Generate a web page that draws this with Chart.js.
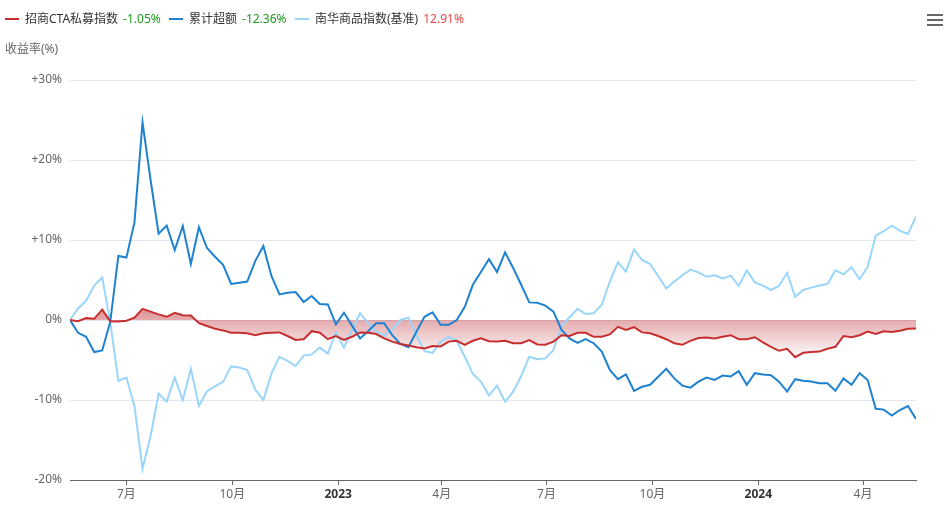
<!DOCTYPE html>
<html>
<head>
<meta charset="utf-8">
<script src="https://cdn.jsdelivr.net/npm/chart.js@4.4.1/dist/chart.umd.min.js"></script>
<style>
html,body{margin:0;padding:0;background:#fff;}
#wrap{position:relative;width:944px;height:529px;overflow:hidden;font-family:'Noto Sans','Noto Sans CJK SC',sans-serif;}
#c{position:absolute;left:0;top:0;}
#legend{position:absolute;left:0;top:10px;width:600px;height:18px;font-size:12px;color:#333;white-space:nowrap;line-height:18px;}
#legend .item{position:absolute;top:0;display:flex;align-items:center;}
#legend .ln{display:inline-block;width:14px;height:2px;margin-right:6px;}
#legend .val{margin-left:5px;}
#ytitle{position:absolute;left:5px;top:40px;font-size:12px;color:#666;line-height:18px;}
#menu{position:absolute;left:927px;top:14px;width:16px;}
#menu div{height:2px;background:#666;margin-bottom:3px;}
</style>
</head>
<body>
<div id="wrap">
  <canvas id="c" width="944" height="529"></canvas>
  <div id="legend"></div>
  <div id="ytitle">收益率(%)</div>
  <div id="menu"><div></div><div></div><div></div></div>
</div>
<script>
// ---- categories: weekly dates ----
const weekDates = [
 '2022-05-13','2022-05-20','2022-05-27','2022-06-03','2022-06-10','2022-06-17','2022-06-24','2022-07-01','2022-07-08','2022-07-15',
 '2022-07-22','2022-07-29','2022-08-05','2022-08-12','2022-08-19','2022-08-26','2022-09-02','2022-09-09','2022-09-16','2022-09-23',
 '2022-09-30','2022-10-07','2022-10-14','2022-10-21','2022-10-28','2022-11-04','2022-11-11','2022-11-18','2022-11-25','2022-12-02',
 '2022-12-09','2022-12-16','2022-12-23','2022-12-30','2023-01-06','2023-01-13','2023-01-20','2023-01-27','2023-02-03','2023-02-10',
 '2023-02-17','2023-02-24','2023-03-03','2023-03-10','2023-03-17','2023-03-24','2023-03-31','2023-04-07','2023-04-14','2023-04-21',
 '2023-04-28','2023-05-05','2023-05-12','2023-05-19','2023-05-26','2023-06-02','2023-06-09','2023-06-16','2023-06-23','2023-06-30',
 '2023-07-07','2023-07-14','2023-07-21','2023-07-28','2023-08-04','2023-08-11','2023-08-18','2023-08-25','2023-09-01','2023-09-08',
 '2023-09-15','2023-09-22','2023-09-29','2023-10-06','2023-10-13','2023-10-20','2023-10-27','2023-11-03','2023-11-10','2023-11-17',
 '2023-11-24','2023-12-01','2023-12-08','2023-12-15','2023-12-22','2023-12-29','2024-01-05','2024-01-12','2024-01-19','2024-01-26',
 '2024-02-02','2024-02-09','2024-02-16','2024-02-23','2024-03-01','2024-03-08','2024-03-15','2024-03-22','2024-03-29','2024-04-05',
 '2024-04-12','2024-04-19','2024-04-26','2024-05-03','2024-05-10','2024-05-17'
];

// ---- series values (%) ----
const ctaIndex = [
 0,-0.15,0.25,0.15,1.3,-0.15,-0.2,-0.1,0.3,1.4,
 1.05,0.7,0.4,0.9,0.6,0.55,-0.4,-0.75,-1.1,-1.3,
 -1.6,-1.6,-1.65,-1.9,-1.65,-1.6,-1.55,-2.0,-2.5,-2.4,
 -1.4,-1.6,-2.4,-2.0,-2.5,-2.1,-1.55,-1.6,-1.75,-2.3,
 -2.7,-3.0,-3.2,-3.4,-3.55,-3.25,-3.3,-2.7,-2.6,-3.1,
 -2.6,-2.3,-2.65,-2.7,-2.6,-2.9,-2.9,-2.5,-3.05,-3.1,
 -2.7,-1.9,-2.0,-1.6,-1.6,-2.1,-2.1,-1.8,-0.85,-1.25,
 -0.9,-1.55,-1.65,-2.0,-2.4,-2.9,-3.1,-2.6,-2.25,-2.2,
 -2.3,-2.1,-1.9,-2.4,-2.4,-2.15,-2.8,-3.35,-3.85,-3.6,
 -4.65,-4.1,-4.0,-3.95,-3.6,-3.35,-2.0,-2.15,-1.9,-1.45,
 -1.75,-1.4,-1.5,-1.35,-1.1,-1.05
];
const excessReturn = [
 0,-1.6,-2.1,-4.0,-3.8,-0.2,8.0,7.8,12.2,24.7,
 17.5,10.8,11.8,8.75,11.75,7.0,11.6,9.0,7.9,6.9,
 4.5,4.65,4.8,7.4,9.25,5.5,3.2,3.4,3.5,2.25,
 3.0,2.0,1.95,-0.55,0.9,-0.7,-2.3,-1.4,-0.4,-0.4,
 -1.9,-3.0,-3.4,-1.45,0.4,0.95,-0.6,-0.6,0,1.65,
 4.4,6.0,7.6,6.0,8.45,6.5,4.4,2.2,2.15,1.8,
 1.05,-1.25,-2.3,-2.85,-2.4,-2.9,-3.95,-6.25,-7.4,-6.8,
 -8.85,-8.35,-8.1,-7.1,-6.1,-7.3,-8.2,-8.45,-7.7,-7.2,
 -7.5,-6.95,-7.05,-6.4,-8.1,-6.65,-6.8,-6.9,-7.7,-8.95,
 -7.4,-7.6,-7.7,-7.9,-7.9,-8.85,-7.3,-8.1,-6.65,-7.5,
 -11.1,-11.2,-11.95,-11.25,-10.75,-12.36
];
const nanhuaIndex = [
 0,1.45,2.4,4.3,5.3,-0.3,-7.6,-7.2,-10.75,-18.6,
 -14.5,-9.2,-10.2,-7.2,-10.0,-6.1,-10.75,-8.9,-8.3,-7.7,
 -5.8,-5.95,-6.25,-8.7,-10.0,-6.7,-4.6,-5.1,-5.75,-4.45,
 -4.3,-3.45,-4.2,-1.55,-3.45,-1.25,0.85,-0.4,-1.45,-1.95,
 -1.15,0,0.3,-1.9,-3.9,-4.1,-2.7,-2.1,-2.6,-4.6,
 -6.75,-7.7,-9.45,-8.2,-10.2,-8.95,-7.0,-4.6,-4.9,-4.8,
 -3.75,-0.75,0.35,1.4,0.75,0.85,1.9,4.8,7.2,6.05,
 8.8,7.5,7.0,5.5,3.95,4.8,5.6,6.3,5.95,5.4,
 5.6,5.2,5.55,4.25,6.2,4.7,4.3,3.75,4.25,5.9,
 2.9,3.75,4.05,4.3,4.5,6.2,5.7,6.6,5.1,6.65,
 10.55,11.1,11.8,11.15,10.75,12.91
];
const seriesNames = ['招商CTA私募指数','累计超额','南华商品指数(基准)'];

// ---- tick labels ----
const tickDates = ['2022-07-01','2022-10-01','2023-01-01','2023-04-01','2023-07-01','2023-10-01','2024-01-01','2024-04-01'];
const tickLabels = ['7月','10月','2023','4月','7月','10月','2024','4月'];
const yTickValues = [-20,-10,0,10,20,30];

// ---- layout (not data) ----
const legendLefts = [5, 169, 295];

// ---- helpers ----
function dayNum(s){const p=s.split('-').map(Number);return Date.UTC(p[0],p[1]-1,p[2])/86400000;}
const day0 = dayNum(weekDates[0]);
const xDays = weekDates.map(d=>dayNum(d)-day0);
const tickDays = tickDates.map(d=>dayNum(d)-day0);
const toXY = arr => arr.map((v,i)=>({x:xDays[i], y:v}));

const colors = ['#c62f2f','#1f82d0','#9ad6fb'];
const FONT = "'Noto Sans','Noto Sans CJK SC',sans-serif";

// legend
const legend = document.getElementById('legend');
[ctaIndex, excessReturn, nanhuaIndex].forEach((arr,i)=>{
  const last = arr[arr.length-1];
  const it = document.createElement('div'); it.className='item';
  it.style.left = legendLefts[i] + 'px';
  const ln = document.createElement('span'); ln.className='ln'; ln.style.background=colors[i];
  const tx = document.createElement('span'); tx.textContent = seriesNames[i];
  const vl = document.createElement('span'); vl.className='val';
  vl.textContent = last.toFixed(2)+'%';
  vl.style.color = last < 0 ? '#1f9a1f' : '#f04545';
  it.appendChild(ln); it.appendChild(tx); it.appendChild(vl);
  legend.appendChild(it);
});

function areaGradient(context){
  const chart = context.chart;
  const area = chart.chartArea;
  if(!area) return 'rgba(205,95,100,0.5)';
  const ys = chart.scales.y;
  const top = ys.getPixelForValue(Math.max(...ctaIndex));
  const bot = ys.getPixelForValue(Math.min(...ctaIndex));
  const g = chart.ctx.createLinearGradient(0, top, 0, bot);
  g.addColorStop(0, 'rgba(205,95,100,0.68)');
  g.addColorStop(1, 'rgba(205,95,100,0.02)');
  return g;
}

new Chart(document.getElementById('c'), {
  type: 'line',
  data: {
    datasets: [
      {label: seriesNames[0], data: toXY(ctaIndex), borderColor: colors[0], borderWidth: 2,
       pointRadius: 0, fill: 'origin', backgroundColor: areaGradient, order: 0, tension: 0},
      {label: seriesNames[1], data: toXY(excessReturn), borderColor: colors[1], borderWidth: 2,
       pointRadius: 0, fill: false, order: 1, tension: 0},
      {label: seriesNames[2], data: toXY(nanhuaIndex), borderColor: colors[2], borderWidth: 2,
       pointRadius: 0, fill: false, order: 2, tension: 0}
    ]
  },
  options: {
    responsive: false,
    animation: false,
    devicePixelRatio: 1,
    layout: {padding: {top: 80, right: 28, left: 0, bottom: 0}},
    plugins: {
      legend: {display: false},
      tooltip: {enabled: false},
      filler: {drawTime: 'beforeDatasetsDraw'}
    },
    scales: {
      x: {
        type: 'linear',
        min: xDays[0], max: xDays[xDays.length-1],
        afterBuildTicks: s => { s.ticks = tickDays.map(v => ({value: v})); },
        afterFit: s => { s.height = 49; },
        grid: {drawOnChartArea: false, drawTicks: true, tickLength: 5, tickColor: '#666'},
        border: {color: '#666', width: 1},
        ticks: {
          autoSkip: false, maxRotation: 0, padding: 2,
          callback: (v, i) => tickLabels[i],
          color: c => /^\d{4}$/.test(tickLabels[c.index]) ? '#333' : '#666',
          font: c => ({family: FONT, size: 12, weight: /^\d{4}$/.test(tickLabels[c.index]) ? 'bold' : 'normal'})
        }
      },
      y: {
        min: yTickValues[0], max: yTickValues[yTickValues.length-1],
        afterBuildTicks: s => { s.ticks = yTickValues.map(v => ({value: v})); },
        afterFit: s => { s.width = 70; },
        grid: {color: '#e3e7f1', drawTicks: false, lineWidth: 1},
        border: {display: false},
        ticks: {
          padding: 8, color: '#666',
          font: {family: FONT, size: 12},
          callback: v => (v > 0 ? '+' : '') + v + '%'
        }
      }
    }
  }
});
</script>
</body>
</html>
